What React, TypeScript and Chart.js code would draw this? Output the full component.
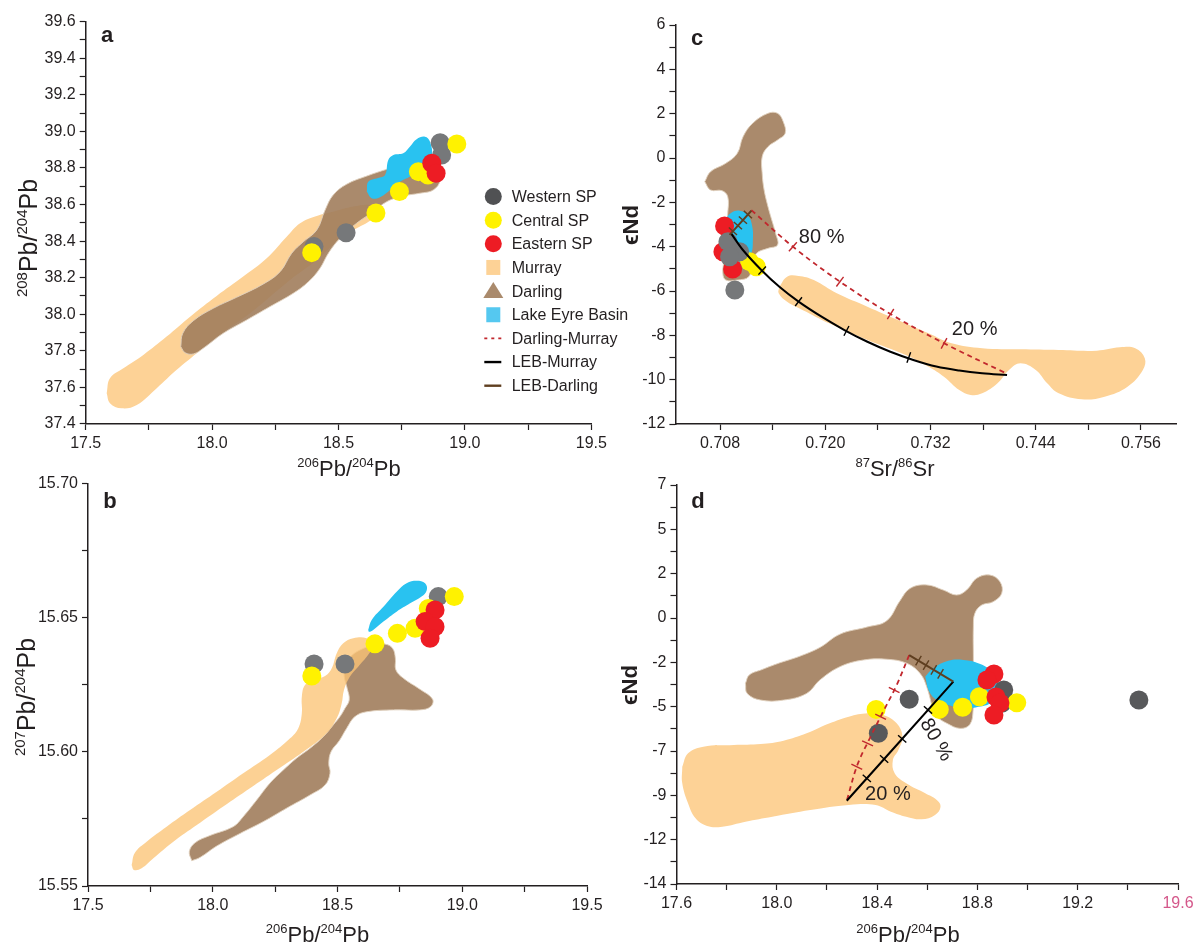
import React, { useEffect, useRef } from 'react';
import { Chart, registerables } from 'chart.js';

Chart.register(...registerables);

type Pt = [number, number];

const FONT = '"Liberation Sans", Arial, Helvetica, sans-serif';
const INK = '#231f20';
const MURRAY_FILL = '#fdd296';
const MURRAY_GLAZE = 'rgba(251,196,118,0.78)';
const DARLING_FILL = '#aa8a6c';
const DARLING_VEIL = 'rgba(161,125,92,0.9)';
const DARLING_EDGE = 'rgba(224,208,190,0.9)';
const LEB_FILL = '#29c2f0';
const LEB_KEY = '#55c8f0';
const WEST_GREY = '#76787a';
const WEST_DARK = '#58595b';
const WEST_KEY = '#505153';
const CENTRAL_YELLOW = '#fff200';
const EASTERN_RED = '#ed1c24';
const DM_RED = '#c1272d';
const LM_BLACK = '#000000';
const LD_BROWN = '#5f3f20';
const PINK = '#d4578a';

// ---------------- panel a : 208Pb/204Pb vs 206Pb/204Pb ----------------
const A_X_LABELS = ['17.5', '18.0', '18.5', '19.0', '19.5'];
const A_Y_LABELS = ['37.4', '37.6', '37.8', '38.0', '38.2', '38.4', '38.6', '38.8', '39.0', '39.2', '39.4', '39.6'];

const A_MURRAY: Pt[] = [
  [17.583, 37.568], [17.596, 37.65], [17.649, 37.705], [17.728, 37.778], [17.82, 37.878], [17.913, 37.987],
  [18.018, 38.1], [18.123, 38.206], [18.216, 38.306], [18.295, 38.424], [18.348, 38.498], [18.414, 38.538],
  [18.479, 38.561], [18.559, 38.589], [18.625, 38.598], [18.654, 38.57], [18.638, 38.525], [18.572, 38.47],
  [18.506, 38.416], [18.414, 38.297], [18.308, 38.188], [18.15, 38.006], [18.018, 37.878], [17.939, 37.787],
  [17.86, 37.696], [17.781, 37.596], [17.702, 37.504], [17.642, 37.486], [17.596, 37.514],
];
const A_DARLING: Pt[] = [
  [17.876, 37.823], [17.884, 37.896], [17.926, 37.965], [18.005, 38.033], [18.097, 38.093], [18.203, 38.166],
  [18.269, 38.233], [18.315, 38.334], [18.361, 38.397], [18.414, 38.461], [18.447, 38.57], [18.479, 38.652],
  [18.532, 38.711], [18.612, 38.756], [18.691, 38.793], [18.77, 38.826], [18.835, 38.844], [18.888, 38.807],
  [18.902, 38.734], [18.875, 38.68], [18.822, 38.662], [18.756, 38.647], [18.691, 38.616], [18.638, 38.561],
  [18.572, 38.498], [18.506, 38.416], [18.46, 38.334], [18.427, 38.252], [18.381, 38.178], [18.321, 38.115],
  [18.229, 38.042], [18.137, 37.969], [18.044, 37.896], [17.965, 37.814], [17.926, 37.783], [17.893, 37.79],
];
const A_LEB: Pt[] = [
  [18.612, 38.671], [18.618, 38.725], [18.656, 38.745], [18.684, 38.762], [18.697, 38.844], [18.717, 38.871],
  [18.756, 38.88], [18.783, 38.917], [18.809, 38.957], [18.842, 38.971], [18.862, 38.944], [18.869, 38.862],
  [18.842, 38.826], [18.783, 38.753], [18.743, 38.725], [18.704, 38.68], [18.664, 38.64], [18.631, 38.634],
];
const A_WESTERN: Pt[] = [[18.902, 38.938], [18.908, 38.871], [18.53, 38.446], [18.403, 38.37]];
const A_CENTRAL: Pt[] = [[18.968, 38.931], [18.816, 38.78], [18.741, 38.671], [18.648, 38.554], [18.394, 38.337], [18.854, 38.762]];
const A_EASTERN: Pt[] = [[18.869, 38.826], [18.886, 38.771]];

// ---------------- panel b : 207Pb/204Pb vs 206Pb/204Pb ----------------
const B_X_LABELS = ['17.5', '18.0', '18.5', '19.0', '19.5'];
const B_Y_LABELS = ['15.55', '15.60', '15.65', '15.70'];

const B_MURRAY: Pt[] = [
  [17.675, 15.5578], [17.688, 15.5624], [17.735, 15.5665], [17.815, 15.5721], [17.909, 15.5783], [18.016, 15.5851],
  [18.122, 15.592], [18.229, 15.5988], [18.31, 15.605], [18.343, 15.6088], [18.357, 15.6143], [18.357, 15.6205],
  [18.37, 15.6249], [18.41, 15.627], [18.45, 15.6282], [18.477, 15.6311], [18.497, 15.6367], [18.523, 15.6404],
  [18.563, 15.6423], [18.617, 15.6423], [18.643, 15.6398], [18.623, 15.6361], [18.583, 15.6317], [18.55, 15.628],
  [18.526, 15.623], [18.517, 15.6181], [18.497, 15.6125], [18.45, 15.6063], [18.363, 15.6], [18.256, 15.5932],
  [18.149, 15.5864], [18.042, 15.5796], [17.936, 15.5727], [17.842, 15.5665], [17.762, 15.5603], [17.715, 15.5566],
  [17.684, 15.556],
];
const B_DARLING: Pt[] = [
  [17.916, 15.5594], [17.906, 15.5628], [17.929, 15.5661], [17.989, 15.5688], [18.082, 15.5721], [18.122, 15.5758],
  [18.176, 15.582], [18.229, 15.5883], [18.283, 15.5932], [18.336, 15.5976], [18.39, 15.6013], [18.443, 15.6056],
  [18.483, 15.61], [18.51, 15.6131], [18.53, 15.6162], [18.547, 15.6193], [18.539, 15.6236], [18.527, 15.628],
  [18.53, 15.6317], [18.55, 15.6352], [18.59, 15.6379], [18.643, 15.6397], [18.69, 15.6401], [18.721, 15.6385],
  [18.732, 15.6348], [18.734, 15.6305], [18.764, 15.6274], [18.83, 15.6233], [18.881, 15.6196], [18.873, 15.6168],
  [18.83, 15.6156], [18.724, 15.6156], [18.617, 15.6149], [18.57, 15.6131], [18.537, 15.6088], [18.507, 15.6041],
  [18.474, 15.6], [18.465, 15.5957], [18.47, 15.592], [18.45, 15.5876], [18.39, 15.5839], [18.296, 15.579],
  [18.203, 15.574], [18.11, 15.5696], [18.016, 15.5649], [17.95, 15.5607],
];
const B_LEB: Pt[] = [
  [18.623, 15.6454], [18.637, 15.6491], [18.684, 15.654], [18.737, 15.6596], [18.777, 15.6628], [18.817, 15.6637],
  [18.851, 15.6628], [18.858, 15.6603], [18.837, 15.6578], [18.791, 15.6553], [18.737, 15.6522], [18.684, 15.6485],
  [18.643, 15.6454], [18.627, 15.6447],
];
const B_WESTERN: Pt[] = [[18.904, 15.6578], [18.53, 15.6327], [18.406, 15.6327]];
const B_CENTRAL: Pt[] = [[18.968, 15.6578], [18.864, 15.6534], [18.811, 15.646], [18.74, 15.6441], [18.65, 15.6402], [18.397, 15.6282]];
const B_EASTERN: Pt[] = [[18.891, 15.6528], [18.851, 15.6485], [18.891, 15.6466], [18.871, 15.6423]];

// ---------------- panel c : eNd vs 87Sr/86Sr ----------------
const C_X_LABELS = ['0.708', '0.720', '0.732', '0.744', '0.756'];
const C_Y_LABELS = ['-12', '-10', '-8', '-6', '-4', '-2', '0', '2', '4', '6'];

const C_DARLING: Pt[] = [
  [0.70625, -1.068], [0.70691, -0.617], [0.70865, -0.241], [0.70996, 0.211], [0.71062, 0.962], [0.71171, 1.564],
  [0.71346, 2.015], [0.71455, 2.015], [0.7152, 1.639], [0.71542, 1.113], [0.71455, 0.812], [0.71346, 0.511],
  [0.7128, 0.06], [0.7128, -0.692], [0.71302, -1.444], [0.71346, -2.195], [0.71389, -2.797], [0.71433, -3.398],
  [0.71455, -3.925], [0.71346, -4.075], [0.71215, -4.301], [0.71171, -4.752], [0.71127, -5.353], [0.70996, -5.504],
  [0.70865, -5.504], [0.70831, -5.203], [0.70844, -4.602], [0.70865, -3.398], [0.70887, -2.496], [0.70887, -1.744],
  [0.70822, -1.474], [0.70691, -1.444],
];
const C_MURRAY: Pt[] = [
  [0.71476, -5.805], [0.71564, -5.353], [0.71695, -5.323], [0.71869, -5.504], [0.72131, -6.105], [0.7248, -6.707],
  [0.72829, -7.308], [0.73178, -7.91], [0.7344, -8.361], [0.73789, -8.586], [0.74226, -8.632], [0.74662, -8.662],
  [0.75098, -8.692], [0.7536, -8.541], [0.75535, -8.586], [0.75644, -9.038], [0.75622, -9.564], [0.75447, -10.316],
  [0.75186, -10.767], [0.74924, -10.887], [0.74662, -10.617], [0.74531, -10.165], [0.744, -9.564], [0.74226, -9.263],
  [0.74095, -9.564], [0.73964, -10.165], [0.73789, -10.617], [0.73658, -10.692], [0.73528, -10.466], [0.73353, -9.865],
  [0.73178, -9.414], [0.72917, -8.887], [0.7248, -8.211], [0.72044, -7.459], [0.71782, -6.932], [0.71564, -6.481],
  [0.71468, -6.105],
];
const C_LEB: Pt[] = [
  [0.70851, -2.796], [0.70928, -2.467], [0.71022, -2.376], [0.71117, -2.57], [0.71167, -3.098], [0.71174, -3.698],
  [0.71156, -4.298], [0.71079, -4.69], [0.70965, -4.51], [0.70851, -3.698],
];
const C_WESTERN: Pt[] = [[0.70889, -3.774], [0.71022, -4.226], [0.70908, -4.451], [0.70968, -5.953]];
const C_CENTRAL: Pt[] = [[0.71136, -4.676], [0.71213, -4.902]];
const C_EASTERN: Pt[] = [[0.70851, -3.066], [0.70832, -4.226], [0.70943, -5.006]];

const C_LEB_MURRAY: Pt[] = [
  [0.70925, -3.4], [0.7106, -4.15], [0.7127, -5.05], [0.71476, -5.81], [0.71695, -6.48], [0.71957, -7.16],
  [0.72218, -7.76], [0.7248, -8.29], [0.72742, -8.74], [0.73004, -9.11], [0.73266, -9.41], [0.73528, -9.59],
  [0.73789, -9.71], [0.74073, -9.79],
];
const C_LEB_MURRAY_MARKS: Pt[] = [[0.7128, -5.08], [0.71695, -6.48], [0.72241, -7.8], [0.72952, -9.0]];
const C_DARLING_MURRAY: Pt[] = [[0.71156, -2.35], [0.7163, -4.0], [0.72167, -5.58], [0.72744, -7.04], [0.73354, -8.36], [0.74075, -9.74]];
const C_DARLING_MURRAY_MARKS: Pt[] = [[0.7163, -4.0], [0.72167, -5.58], [0.72744, -7.04], [0.73354, -8.36]];
const C_LEB_DARLING: Pt[] = [[0.70908, -3.47], [0.71156, -2.38]];
const C_LEB_DARLING_MARKS: Pt[] = [[0.70946, -3.303], [0.71003, -3.052], [0.7106, -2.802], [0.71117, -2.551]];

// ---------------- panel d : eNd vs 206Pb/204Pb ----------------
const D_X_LABELS = ['17.6', '18.0', '18.4', '18.8', '19.2', '19.6'];
const D_Y_LABELS = ['7', '5', '2', '0', '-2', '-5', '-7', '-9', '-12', '-14'];
const D_Y_TICK_AT = [7, 14 / 3, 7 / 3, 0, -7 / 3, -14 / 3, -7, -28 / 3, -35 / 3, -14];

const D_DARLING: Pt[] = [
  [17.875, -3.44], [17.89, -3.0], [17.936, -2.74], [18.012, -2.36], [18.09, -2.02], [18.172, -1.55],
  [18.252, -0.85], [18.359, -0.48], [18.438, -0.15], [18.491, 0.9], [18.532, 1.56], [18.598, 1.74],
  [18.664, 1.47], [18.717, 1.21], [18.757, 1.47], [18.797, 2.09], [18.85, 2.26], [18.89, 1.91],
  [18.897, 1.3], [18.863, 0.86], [18.817, 0.68], [18.79, 0.25], [18.784, -0.46], [18.784, -2.21],
  [18.783, -3.79], [18.783, -4.84], [18.77, -5.6], [18.731, -5.81], [18.678, -5.54], [18.638, -5.19],
  [18.624, -4.84], [18.598, -3.62], [18.571, -2.91], [18.518, -2.38], [18.438, -2.17], [18.345, -2.21],
  [18.252, -2.56], [18.172, -3.26], [18.119, -3.97], [18.027, -4.32], [17.936, -4.32], [17.882, -3.97],
];
const D_MURRAY: Pt[] = [
  [17.623, -7.825], [17.646, -7.123], [17.707, -6.772], [17.829, -6.684], [17.936, -6.632], [18.027, -6.456],
  [18.119, -6.07], [18.211, -5.544], [18.287, -5.193], [18.363, -5.018], [18.424, -5.105], [18.478, -5.544],
  [18.501, -6.246], [18.485, -6.947], [18.463, -7.474], [18.47, -8.175], [18.516, -8.702], [18.592, -9.228],
  [18.638, -9.579], [18.653, -9.93], [18.631, -10.368], [18.577, -10.596], [18.516, -10.456], [18.455, -10.193],
  [18.394, -9.842], [18.287, -9.842], [18.134, -10.105], [17.982, -10.456], [17.875, -10.719], [17.783, -10.982],
  [17.722, -10.947], [17.676, -10.544], [17.646, -9.754], [17.623, -8.702],
];
const D_LEB: Pt[] = [
  [18.592, -3.09], [18.623, -2.65], [18.684, -2.25], [18.745, -2.21], [18.806, -2.39], [18.852, -2.74],
  [18.882, -3.26], [18.882, -3.97], [18.852, -4.49], [18.806, -4.67], [18.745, -4.75], [18.684, -4.58],
  [18.638, -4.32], [18.608, -3.88],
];
const D_WESTERN: Pt[] = [[18.528, -4.28], [18.405, -6.07], [18.905, -3.79], [18.897, -4.49], [19.444, -4.32]];
const D_CENTRAL: Pt[] = [[18.396, -4.81], [18.648, -4.81], [18.741, -4.7], [18.808, -4.14], [18.957, -4.46]];
const D_EASTERN: Pt[] = [[18.866, -2.95], [18.838, -3.26], [18.874, -4.16], [18.89, -4.47], [18.866, -5.11]];

const D_LEB_MURRAY: Pt[] = [[18.704, -3.35], [18.279, -9.62]];
const D_LEB_MURRAY_MARKS: Pt[] = [[18.603, -4.84], [18.5, -6.36], [18.428, -7.42], [18.359, -8.44]];
const D_DARLING_MURRAY: Pt[] = [[18.528, -1.95], [18.478, -3.53], [18.424, -4.93], [18.371, -6.33], [18.321, -7.74], [18.279, -9.62]];
const D_DARLING_MURRAY_MARKS: Pt[] = [[18.468, -3.79], [18.414, -5.2], [18.362, -6.6], [18.319, -7.83]];
const D_LEB_DARLING: Pt[] = [[18.528, -1.95], [18.704, -3.35]];
const D_LEB_DARLING_MARKS: Pt[] = [[18.565, -2.244], [18.595, -2.483], [18.626, -2.73], [18.653, -2.944]];

// legend entries shown in panel a
const LEGEND_LABELS = ['Western SP', 'Central SP', 'Eastern SP', 'Murray', 'Darling', 'Lake Eyre Basin', 'Darling-Murray', 'LEB-Murray', 'LEB-Darling'];

// ---------------- helpers ----------------
const W = 1200;
const H = 945;
const Y_BOX = 60;
const X_BOX = 40;

type Seg = { t: string; sup?: boolean };
type Area = { left: number; right: number; top: number; bottom: number };
type Note = { text: string; at: Pt; rot?: number };
type Decor = {
  letter: { t: string; x: number; y: number };
  xTitle: { segs: Seg[]; x: number; y: number };
  yTitle: { segs: Seg[]; x: number; y: number; size: number; bold?: boolean };
  notes?: Note[];
  legend?: boolean;
};

const xy = (pts: Pt[]) => pts.map(([x, y]) => ({ x, y }));
const font = (size: number, bold?: boolean) => `${bold ? 'bold ' : ''}${size}px ${FONT}`;

function tickList(majors: number[], labels: string[], min: number, max: number) {
  const out: { value: number; text: string }[] = [];
  majors.forEach((v, i) => {
    out.push({ value: v, text: labels[i] });
    if (i < majors.length - 1) out.push({ value: (v + majors[i + 1]) / 2, text: '' });
  });
  return out.filter((t) => t.value >= min - 1e-9 && t.value <= max + 1e-9).sort((a, b) => a.value - b.value);
}

function axis(kind: 'x' | 'y', min: number, max: number, majors: number[], labels: string[], color?: (v: number) => string) {
  const ticks = tickList(majors, labels, min, max);
  return {
    type: 'linear',
    position: kind === 'x' ? 'bottom' : 'left',
    min,
    max,
    grid: { display: true, drawOnChartArea: false, drawTicks: true, tickLength: 6, tickWidth: 1.2, tickColor: INK },
    border: { display: true, color: INK, width: 1.5 },
    ticks: {
      autoSkip: false,
      maxRotation: 0,
      minRotation: 0,
      includeBounds: false,
      padding: 4,
      font: { family: FONT, size: 16 },
      color: (c: any) => (color && c.tick ? color(c.tick.value) : INK),
      callback: (_v: any, i: number) => (ticks[i] ? ticks[i].text : ''),
    },
    afterBuildTicks: (s: any) => {
      s.ticks = ticks.map((t) => ({ value: t.value }));
    },
    afterFit: (s: any) => {
      if (kind === 'x') s.height = X_BOX;
      else s.width = Y_BOX;
    },
  };
}

function field(pts: Pt[], fill: string, edge?: string) {
  return {
    type: 'line',
    data: xy([...pts, pts[0]]),
    showLine: true,
    fill: 'shape',
    backgroundColor: fill,
    borderColor: edge || 'rgba(0,0,0,0)',
    borderWidth: edge ? 1 : 0,
    pointRadius: 0,
    pointHoverRadius: 0,
    tension: 0.4,
  };
}

function dots(pts: Pt[], color: string) {
  return {
    type: 'scatter',
    data: xy(pts),
    pointStyle: 'circle',
    pointRadius: 9.5,
    pointHoverRadius: 9.5,
    pointBackgroundColor: color,
    backgroundColor: color,
    pointBorderWidth: 0,
    borderWidth: 0,
  };
}

function mixLine(pts: Pt[], color: string, width: number, dash: number[] = []) {
  return {
    type: 'line',
    data: xy(pts),
    showLine: true,
    fill: false,
    borderColor: color,
    borderWidth: width,
    borderDash: dash,
    pointRadius: 0,
    pointHoverRadius: 0,
    tension: 0.35,
  };
}

// short strokes drawn across a mixing line, perpendicular to it
function marks(pts: Pt[], path: Pt[], color: string, half: number) {
  return {
    type: 'scatter',
    data: xy(pts),
    pointStyle: 'line',
    pointRadius: half,
    pointHoverRadius: half,
    pointBorderColor: color,
    borderColor: color,
    pointBorderWidth: 1.4,
    pointRotation: (ctx: any) => {
      const raw = ctx.raw;
      if (!raw || !ctx.chart.scales) return 0;
      const sx = ctx.chart.scales.x;
      const sy = ctx.chart.scales.y;
      const px = sx.getPixelForValue(raw.x);
      const py = sy.getPixelForValue(raw.y);
      let best = Infinity;
      let ang = 0;
      for (let i = 0; i < path.length - 1; i++) {
        const x1 = sx.getPixelForValue(path[i][0]);
        const y1 = sy.getPixelForValue(path[i][1]);
        const x2 = sx.getPixelForValue(path[i + 1][0]);
        const y2 = sy.getPixelForValue(path[i + 1][1]);
        const d = Math.hypot((x1 + x2) / 2 - px, (y1 + y2) / 2 - py);
        if (d < best) {
          best = d;
          ang = Math.atan2(y2 - y1, x2 - x1);
        }
      }
      return (ang * 180) / Math.PI + 90;
    },
  };
}

function drawRich(ctx: CanvasRenderingContext2D, segs: Seg[], x: number, y: number, size: number, rot = 0, bold = false) {
  const sup = Math.round(size * 0.6);
  ctx.save();
  ctx.translate(x, y);
  if (rot) ctx.rotate(rot);
  ctx.fillStyle = INK;
  ctx.textBaseline = 'alphabetic';
  ctx.textAlign = 'left';
  const widths = segs.map((s) => {
    ctx.font = font(s.sup ? sup : size, bold);
    return ctx.measureText(s.t).width;
  });
  const total = widths.reduce((a, b) => a + b, 0);
  let cx = -total / 2;
  segs.forEach((s, i) => {
    ctx.font = font(s.sup ? sup : size, bold);
    ctx.fillText(s.t, cx, s.sup ? -size * 0.4 : 0);
    cx += widths[i];
  });
  ctx.restore();
}

function drawLegend(ctx: CanvasRenderingContext2D) {
  const mx = 493.3;
  const tx = 511.7;
  ctx.save();
  LEGEND_LABELS.forEach((label, i) => {
    const y = 196.5 + i * 23.65;
    ctx.save();
    if (i < 3) {
      ctx.fillStyle = [WEST_KEY, CENTRAL_YELLOW, EASTERN_RED][i];
      ctx.beginPath();
      ctx.arc(mx, y, 8.5, 0, Math.PI * 2);
      ctx.fill();
    } else if (i === 3 || i === 5) {
      ctx.fillStyle = i === 3 ? MURRAY_FILL : LEB_KEY;
      ctx.fillRect(mx - 7, y - 7.5, 14, 15);
    } else if (i === 4) {
      ctx.fillStyle = DARLING_FILL;
      ctx.beginPath();
      ctx.moveTo(mx, y - 9);
      ctx.lineTo(mx + 10, y + 7);
      ctx.lineTo(mx - 10, y + 7);
      ctx.closePath();
      ctx.fill();
    } else {
      ctx.strokeStyle = [DM_RED, LM_BLACK, LD_BROWN][i - 6];
      ctx.lineWidth = i === 6 ? 1.8 : 2.4;
      ctx.setLineDash(i === 6 ? [3, 4] : []);
      ctx.beginPath();
      ctx.moveTo(mx - 9, y);
      ctx.lineTo(mx + 8, y);
      ctx.stroke();
    }
    ctx.restore();
    ctx.fillStyle = INK;
    ctx.font = font(16);
    ctx.textAlign = 'left';
    ctx.textBaseline = 'middle';
    ctx.fillText(label, tx, y + 1);
  });
  ctx.restore();
}

function decorPlugin(d: Decor) {
  return {
    id: 'panelDecor',
    afterDraw(chart: any) {
      const ctx: CanvasRenderingContext2D = chart.ctx;
      ctx.save();
      ctx.fillStyle = INK;
      ctx.font = font(22, true);
      ctx.textAlign = 'center';
      ctx.textBaseline = 'alphabetic';
      ctx.fillText(d.letter.t, d.letter.x, d.letter.y);
      drawRich(ctx, d.xTitle.segs, d.xTitle.x, d.xTitle.y, 22);
      drawRich(ctx, d.yTitle.segs, d.yTitle.x, d.yTitle.y, d.yTitle.size, -Math.PI / 2, !!d.yTitle.bold);
      (d.notes || []).forEach((n) => {
        const px = chart.scales.x.getPixelForValue(n.at[0]);
        const py = chart.scales.y.getPixelForValue(n.at[1]);
        ctx.save();
        ctx.translate(px, py);
        if (n.rot) ctx.rotate((n.rot * Math.PI) / 180);
        ctx.fillStyle = INK;
        ctx.font = font(20);
        ctx.textAlign = 'center';
        ctx.textBaseline = 'middle';
        ctx.fillText(n.text, 0, 0);
        ctx.restore();
      });
      if (d.legend) drawLegend(ctx);
      ctx.restore();
    },
  };
}

function layered(list: any[]) {
  // list is bottom-to-top; Chart.js draws higher "order" first
  return list.map((ds, i) => ({ ...ds, order: -i }));
}

function buildChart(canvas: HTMLCanvasElement, area: Area, scales: any, datasets: any[], decor: Decor) {
  return new Chart(canvas, {
    type: 'scatter',
    data: { datasets: layered(datasets) },
    options: {
      responsive: false,
      animation: false,
      devicePixelRatio: 1,
      events: [],
      layout: {
        padding: {
          left: area.left - Y_BOX,
          right: W - area.right,
          top: area.top,
          bottom: H - area.bottom - X_BOX,
        },
      },
      plugins: { legend: { display: false }, tooltip: { enabled: false } },
      scales,
    } as any,
    plugins: [decorPlugin(decor)],
  } as any);
}

const num = (a: string[]) => a.map((s) => parseFloat(s));
const PB_X: Seg[] = [{ t: '206', sup: true }, { t: 'Pb/' }, { t: '204', sup: true }, { t: 'Pb' }];

function panelA(c: HTMLCanvasElement) {
  return buildChart(
    c,
    { left: 85.7, right: 591.3, top: 21.7, bottom: 424 },
    {
      x: axis('x', 17.5, 19.5, num(A_X_LABELS), A_X_LABELS),
      y: axis('y', 37.4, 39.6, num(A_Y_LABELS), A_Y_LABELS),
    },
    [
      field(A_MURRAY, MURRAY_FILL),
      field(A_DARLING, DARLING_VEIL, DARLING_EDGE),
      field(A_LEB, LEB_FILL),
      dots(A_WESTERN, WEST_GREY),
      dots(A_CENTRAL, CENTRAL_YELLOW),
      dots(A_EASTERN, EASTERN_RED),
    ],
    {
      letter: { t: 'a', x: 107, y: 41.5 },
      xTitle: { segs: PB_X, x: 349, y: 476 },
      yTitle: { segs: [{ t: '208', sup: true }, { t: 'Pb/' }, { t: '204', sup: true }, { t: 'Pb' }], x: 36.5, y: 238, size: 25 },
      legend: true,
    }
  );
}

function panelB(c: HTMLCanvasElement) {
  return buildChart(
    c,
    { left: 88, right: 587, top: 483.3, bottom: 886 },
    {
      x: axis('x', 17.5, 19.5, num(B_X_LABELS), B_X_LABELS),
      y: axis('y', 15.55, 15.7, num(B_Y_LABELS), B_Y_LABELS),
    },
    [
      field(B_DARLING, DARLING_FILL, DARLING_EDGE),
      field(B_MURRAY, MURRAY_GLAZE),
      field(B_LEB, LEB_FILL),
      dots(B_WESTERN, WEST_GREY),
      dots(B_CENTRAL, CENTRAL_YELLOW),
      dots(B_EASTERN, EASTERN_RED),
    ],
    {
      letter: { t: 'b', x: 110, y: 508 },
      xTitle: { segs: PB_X, x: 317.5, y: 941.5 },
      yTitle: { segs: [{ t: '207', sup: true }, { t: 'Pb/' }, { t: '204', sup: true }, { t: 'Pb' }], x: 34.5, y: 697, size: 25 },
    }
  );
}

function panelC(c: HTMLCanvasElement) {
  return buildChart(
    c,
    { left: 675.4, right: 1176, top: 25, bottom: 424 },
    {
      x: axis('x', 0.7029, 0.76, num(C_X_LABELS), C_X_LABELS),
      y: axis('y', -12, 6, num(C_Y_LABELS), C_Y_LABELS),
    },
    [
      field(C_DARLING, DARLING_FILL, DARLING_EDGE),
      field(C_MURRAY, MURRAY_FILL),
      field(C_LEB, LEB_FILL),
      dots(C_CENTRAL, CENTRAL_YELLOW),
      dots(C_EASTERN, EASTERN_RED),
      dots(C_WESTERN, WEST_GREY),
      mixLine(C_DARLING_MURRAY, DM_RED, 1.8, [5, 4]),
      mixLine(C_LEB_MURRAY, LM_BLACK, 2),
      mixLine(C_LEB_DARLING, LD_BROWN, 2),
      marks(C_DARLING_MURRAY_MARKS, C_DARLING_MURRAY, DM_RED, 6),
      marks(C_LEB_MURRAY_MARKS, C_LEB_MURRAY, LM_BLACK, 5.5),
      marks(C_LEB_DARLING_MARKS, C_LEB_DARLING, LD_BROWN, 5.5),
    ],
    {
      letter: { t: 'c', x: 697, y: 45 },
      xTitle: { segs: [{ t: '87', sup: true }, { t: 'Sr/' }, { t: '86', sup: true }, { t: 'Sr' }], x: 895, y: 476 },
      yTitle: { segs: [{ t: 'ϵNd' }], x: 638, y: 225, size: 22, bold: true },
      notes: [
        { text: '80 %', at: [0.71958, -3.585] },
        { text: '20 %', at: [0.73703, -7.735] },
      ],
    }
  );
}

function panelD(c: HTMLCanvasElement) {
  return buildChart(
    c,
    { left: 676.5, right: 1178, top: 485, bottom: 884 },
    {
      x: axis('x', 17.6, 19.6, num(D_X_LABELS), D_X_LABELS, (v) => (Math.abs(v - 19.6) < 1e-6 ? PINK : INK)),
      y: axis('y', -14, 7, D_Y_TICK_AT, D_Y_LABELS),
    },
    [
      field(D_DARLING, DARLING_FILL, DARLING_EDGE),
      field(D_MURRAY, MURRAY_FILL),
      field(D_LEB, LEB_FILL),
      dots(D_WESTERN, WEST_DARK),
      dots(D_CENTRAL, CENTRAL_YELLOW),
      dots(D_EASTERN, EASTERN_RED),
      mixLine(D_DARLING_MURRAY, DM_RED, 1.8, [5, 4]),
      mixLine(D_LEB_MURRAY, LM_BLACK, 2),
      mixLine(D_LEB_DARLING, LD_BROWN, 2),
      marks(D_DARLING_MURRAY_MARKS, D_DARLING_MURRAY, DM_RED, 6),
      marks(D_LEB_MURRAY_MARKS, D_LEB_MURRAY, LM_BLACK, 5.5),
      marks(D_LEB_DARLING_MARKS, D_LEB_DARLING, LD_BROWN, 5.5),
    ],
    {
      letter: { t: 'd', x: 698, y: 508 },
      xTitle: { segs: PB_X, x: 908, y: 942 },
      yTitle: { segs: [{ t: 'ϵNd' }], x: 636.5, y: 685, size: 22, bold: true },
      notes: [
        { text: '80 %', at: [18.635, -6.42], rot: 60 },
        { text: '20 %', at: [18.443, -9.29] },
      ],
    }
  );
}

function Panel({ build }: { build: (c: HTMLCanvasElement) => Chart }) {
  const ref = useRef<HTMLCanvasElement>(null);
  useEffect(() => {
    if (!ref.current) return;
    const chart = build(ref.current);
    return () => chart.destroy();
  }, [build]);
  return (
    <canvas
      ref={ref}
      width={W}
      height={H}
      style={{ position: 'absolute', left: 0, top: 0, width: W, height: H }}
    />
  );
}

export default function App() {
  return (
    <div style={{ position: 'absolute', left: 0, top: 0, width: W, height: H, background: '#ffffff', overflow: 'hidden' }}>
      <Panel build={panelA} />
      <Panel build={panelB} />
      <Panel build={panelC} />
      <Panel build={panelD} />
    </div>
  );
}
